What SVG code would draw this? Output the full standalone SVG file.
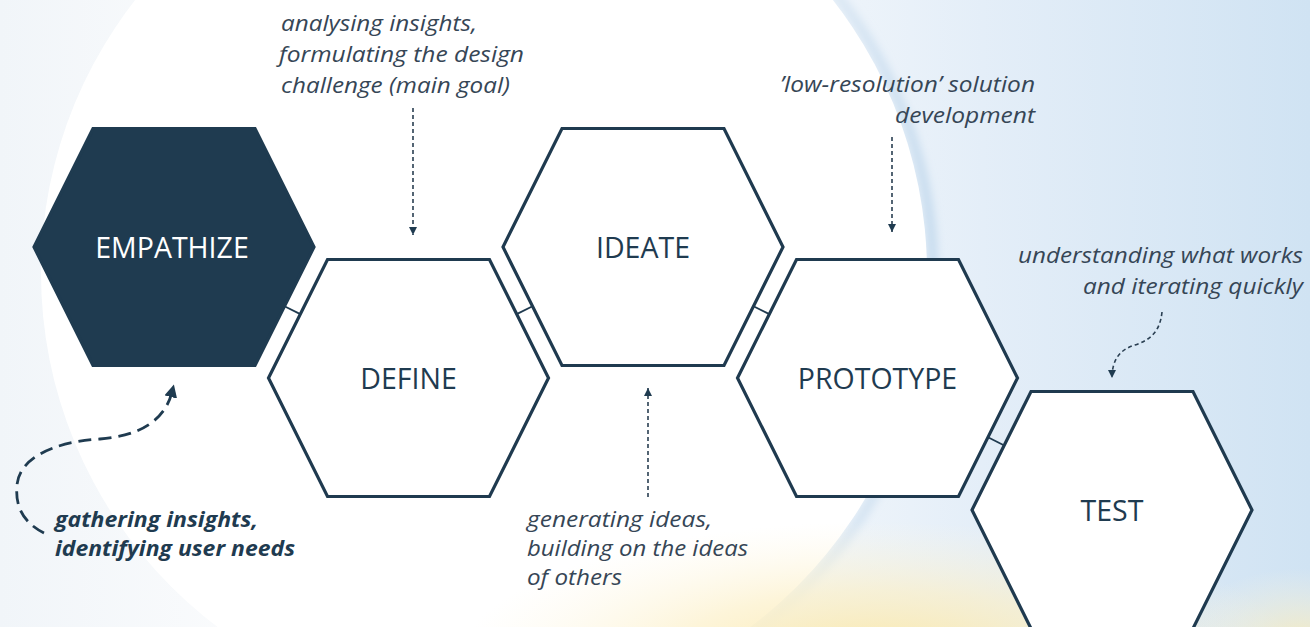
<svg xmlns="http://www.w3.org/2000/svg" width="1310" height="627" viewBox="0 0 1310 627">
<defs>
<style>
.hex{fill:#ffffff;stroke:#1f3a4f;stroke-width:3.2;stroke-linejoin:miter}
.hexd{fill:#1f3b50;stroke:#1f3b50;stroke-width:3.2}
.lbl{font-family:"Open Sans","Noto Sans",sans-serif;font-size:28.5px;fill:#1f3b50;text-anchor:middle}
.lblw{fill:#ffffff}
.note{font-family:"Open Sans","Noto Sans",sans-serif;font-style:italic;font-size:21px;fill:#364656}
.noteb{font-family:"Open Sans","Noto Sans",sans-serif;font-style:italic;font-weight:bold;font-size:21px;fill:#1f3b50}
.tick{stroke:#1f3a4f;stroke-width:1.8;fill:none}
.dash{stroke:#2a3f52;stroke-width:1.6;fill:none;stroke-dasharray:4 3}
.bigdash{stroke:#1f3b50;stroke-width:2.8;fill:none;stroke-dasharray:13 7}
</style>
<marker id="ah" viewBox="0 0 10 10" refX="10" refY="5" markerWidth="8" markerHeight="8" markerUnits="userSpaceOnUse" orient="auto">
<path d="M0,0 L10,5 L0,10 z" fill="#1f3b50"/>
</marker>
<marker id="ahb" viewBox="0 0 10 10" refX="4" refY="5" markerWidth="13" markerHeight="13" markerUnits="userSpaceOnUse" orient="auto">
<path d="M0,0 L10,5 L0,10 z" fill="#1f3b50"/>
</marker>
<linearGradient id="bg" x1="0" y1="0" x2="1" y2="0">
<stop offset="0" stop-color="#f1f5f9"/>
<stop offset="0.2" stop-color="#fbfcfd"/>
<stop offset="0.55" stop-color="#f6f9fc"/>
<stop offset="0.75" stop-color="#e4eef8"/>
<stop offset="1" stop-color="#d0e3f3"/>
</linearGradient>
<linearGradient id="rim" gradientUnits="userSpaceOnUse" x1="500" y1="0" x2="930" y2="0">
<stop offset="0" stop-color="#cfe0ef" stop-opacity="0"/>
<stop offset="0.6" stop-color="#cfe0ef" stop-opacity="0.2"/>
<stop offset="1" stop-color="#c6dbee" stop-opacity="1"/>
</linearGradient>
<radialGradient id="yel" cx="880" cy="660" r="420" gradientUnits="userSpaceOnUse" gradientTransform="translate(880 660) scale(1 0.33) translate(-880 -660)">
<stop offset="0" stop-color="#fae7a6" stop-opacity="1"/>
<stop offset="0.5" stop-color="#fcefc4" stop-opacity="0.65"/>
<stop offset="1" stop-color="#fdf6e0" stop-opacity="0"/>
</radialGradient>
<radialGradient id="yel2" cx="1300" cy="640" r="120" gradientUnits="userSpaceOnUse" gradientTransform="translate(1300 640) scale(1 0.6) translate(-1300 -640)">
<stop offset="0" stop-color="#fbecb8" stop-opacity="0.8"/>
<stop offset="1" stop-color="#fdf6e0" stop-opacity="0"/>
</radialGradient>
<filter id="soft" x="-10%" y="-10%" width="120%" height="120%">
<feGaussianBlur stdDeviation="4"/>
</filter>
</defs>

<g id="background">
<rect x="0" y="0" width="1310" height="627" fill="url(#bg)"/>
<circle cx="484" cy="273" r="449" fill="none" stroke="url(#rim)" stroke-width="10" filter="url(#soft)"/>
<circle cx="484" cy="273" r="443" fill="#ffffff"/>
<rect x="440" y="480" width="870" height="147" fill="url(#yel)"/>
<rect x="1150" y="540" width="160" height="87" fill="url(#yel2)"/>
</g>

<g id="connectors">
<line class="tick" x1="284.5" y1="306.3" x2="300.3" y2="314.1"/>
<line class="tick" x1="532.5" y1="306.3" x2="516.7" y2="314.1"/>
<line class="tick" x1="753.5" y1="306.3" x2="769.3" y2="314.1"/>
<line class="tick" x1="988" y1="437.3" x2="1003.8" y2="445.2"/>
<line class="dash" x1="413" y1="108" x2="413" y2="235" marker-end="url(#ah)"/>
<line class="dash" x1="892" y1="137" x2="892" y2="232" marker-end="url(#ah)"/>
<line class="dash" x1="648" y1="497" x2="648" y2="388" marker-end="url(#ah)"/>
<path class="dash" d="M1162,312 C1160,332 1150,340 1135,345 C1118,350 1112,362 1112,378" marker-end="url(#ah)"/>
<path class="bigdash" d="M44,533 C22,522 15,505 17,485 C19,460 50,442 100,439 C140,436 165,420 172,392" marker-end="url(#ahb)"/>
</g>

<g id="empathize">
<polygon class="hexd" points="34,247 93,128.5 255,128.5 314,247 255,365.5 93,365.5"/>
<text class="lbl lblw" x="172" y="258">EMPATHIZE</text>
</g>
<g id="define">
<polygon class="hex" points="268.5,378 327.5,259.5 489.5,259.5 548.5,378 489.5,496.5 327.5,496.5"/>
<text class="lbl" x="408.5" y="389">DEFINE</text>
</g>
<g id="ideate">
<polygon class="hex" points="503,247 562,128.5 724,128.5 783,247 724,365.5 562,365.5"/>
<text class="lbl" x="643" y="258">IDEATE</text>
</g>
<g id="prototype">
<polygon class="hex" points="737.5,378 796.5,259.5 958.5,259.5 1017.5,378 958.5,496.5 796.5,496.5"/>
<text class="lbl" x="877.5" y="389">PROTOTYPE</text>
</g>
<g id="test">
<polygon class="hex" points="972,510 1031,391.5 1193,391.5 1252,510 1193,628.5 1031,628.5"/>
<text class="lbl" x="1112" y="521">TEST</text>
</g>

<g id="note-define">
<text class="note" x="281" y="30.5" textLength="196" lengthAdjust="spacingAndGlyphs">analysing insights,</text>
<text class="note" x="279" y="61.5" textLength="245" lengthAdjust="spacingAndGlyphs">formulating the design</text>
<text class="note" x="281" y="92.5" textLength="229" lengthAdjust="spacingAndGlyphs">challenge (main goal)</text>
</g>
<g id="note-prototype">
<text class="note" x="1035" y="92" text-anchor="end" textLength="255" lengthAdjust="spacingAndGlyphs">’low-resolution’ solution</text>
<text class="note" x="1035" y="123" text-anchor="end" textLength="140" lengthAdjust="spacingAndGlyphs">development</text>
</g>
<g id="note-test">
<text class="note" x="1303" y="263" text-anchor="end" textLength="285" lengthAdjust="spacingAndGlyphs">understanding what works</text>
<text class="note" x="1303" y="293.5" text-anchor="end" textLength="220" lengthAdjust="spacingAndGlyphs">and iterating quickly</text>
</g>
<g id="note-ideate">
<text class="note" x="527" y="527" textLength="185" lengthAdjust="spacingAndGlyphs">generating ideas,</text>
<text class="note" x="527" y="556" textLength="221" lengthAdjust="spacingAndGlyphs">building on the ideas</text>
<text class="note" x="527" y="585" textLength="95" lengthAdjust="spacingAndGlyphs">of others</text>
</g>
<g id="note-empathize">
<text class="noteb" x="55" y="527" textLength="203" lengthAdjust="spacingAndGlyphs">gathering insights,</text>
<text class="noteb" x="55" y="556" textLength="240" lengthAdjust="spacingAndGlyphs">identifying user needs</text>
</g>
</svg>
